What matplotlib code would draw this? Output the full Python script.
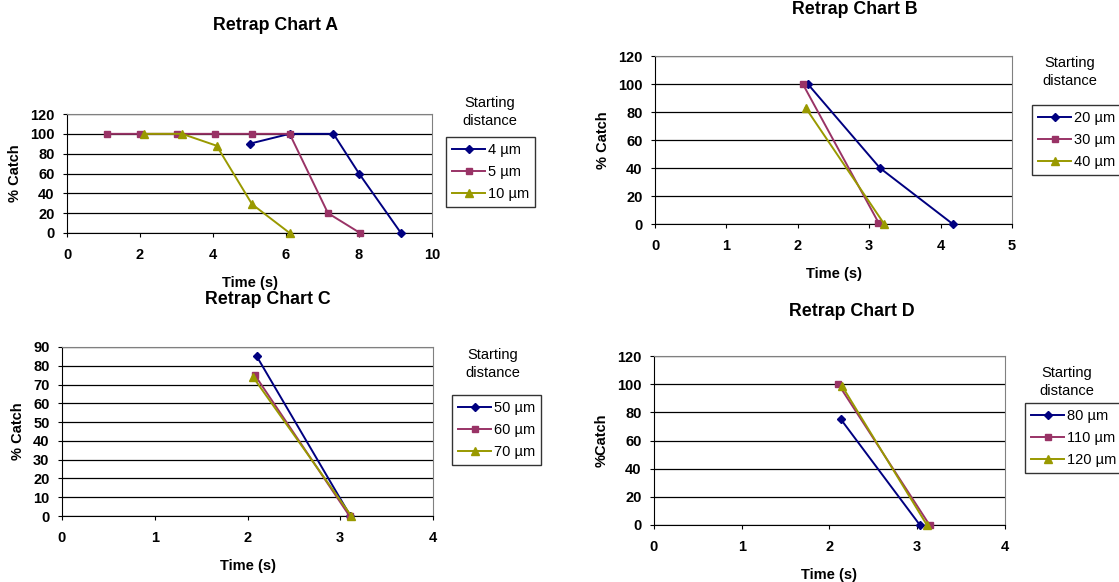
import matplotlib.pyplot as plt

plt.rcParams["font.family"] = ["Liberation Sans", "DejaVu Sans"]

W, H = 1119, 582

# ---- data ----
a_labels = ["4 µm", "5 µm", "10 µm"]
a_x = [[5.0, 6.1, 7.3, 8.0, 9.15],
       [1.1, 2.0, 3.0, 4.05, 5.07, 6.1, 7.15, 8.03],
       [2.1, 3.15, 4.1, 5.07, 6.1]]
a_y = [[90, 100, 100, 60, 0],
       [100, 100, 100, 100, 100, 100, 20, 0],
       [100, 100, 88, 29, 0]]

b_labels = ["20 µm", "30 µm", "40 µm"]
b_x = [[2.14, 3.15, 4.17], [2.07, 3.13], [2.11, 3.21]]
b_y = [[100, 40, 0], [100, 1], [83, 0]]

c_labels = ["50 µm", "60 µm", "70 µm"]
c_x = [[2.1, 3.11], [2.08, 3.1], [2.06, 3.12]]
c_y = [[85, 0], [75, 0], [74, 0]]

d_labels = ["80 µm", "110 µm", "120 µm"]
d_x = [[2.13, 3.03], [2.1, 3.14], [2.14, 3.11]]
d_y = [[75, 0], [100, 0], [99, 0]]

COLORS = ["#000080", "#993366", "#999900"]
MARKERS = ["D", "s", "^"]
MSIZE = [4.5, 5, 6]


def px_rect(x0, y0, x1, y1):
    return [x0 / W, 1 - y1 / H, (x1 - x0) / W, (y1 - y0) / H]


def draw(fig, rect, xs, ys, labels, xlim, ylim, ystep, title, title_xy,
         ylabel, leg_xy, sd_xy):
    ax = fig.add_axes(px_rect(*rect))
    for i in range(3):
        ax.plot(xs[i], ys[i], color=COLORS[i], marker=MARKERS[i],
                markersize=MSIZE[i], linewidth=1.4, label=labels[i],
                clip_on=False, zorder=3)
    ax.set_xlim(*xlim)
    ax.set_ylim(*ylim)
    step = 2 if xlim[1] == 10 else 1
    ax.set_xticks(range(xlim[0], xlim[1] + 1, step))
    ax.set_yticks(range(ylim[0], ylim[1] + 1, ystep))
    ax.yaxis.grid(True, color="black", linewidth=0.9)
    ax.set_axisbelow(True)
    for s in ["top", "right"]:
        ax.spines[s].set_color("#808080")
    for s in ["left", "bottom"]:
        ax.spines[s].set_color("black")
    ax.tick_params(direction="out", length=3, width=0.8)
    ax.tick_params(axis="x", pad=8)
    ax.tick_params(axis="y", pad=6)
    ax.set_xticklabels([str(t) for t in ax.get_xticks()], fontweight="bold",
                       fontsize=10.5)
    ax.set_yticklabels([str(t) for t in ax.get_yticks()], fontweight="bold",
                       fontsize=10.5)
    ax.set_xlabel("Time (s)", fontweight="bold", fontsize=10.5, labelpad=10)
    ax.set_ylabel(ylabel, fontweight="bold", fontsize=10.5, labelpad=6)

    fig.text(title_xy[0] / W, 1 - title_xy[1] / H, title, ha="center",
             va="center", fontweight="bold", fontsize=12.8)
    fig.text(sd_xy[0] / W, 1 - sd_xy[1] / H, "Starting\ndistance",
             ha="center", va="center", fontsize=10.5, linespacing=1.3)
    leg = ax.legend(loc="upper left",
                    bbox_to_anchor=(leg_xy[0] / W, 1 - leg_xy[1] / H),
                    bbox_transform=fig.transFigure, frameon=True,
                    fancybox=False, edgecolor="black", fontsize=10.5,
                    handlelength=2.3, handletextpad=0.15, borderpad=0.4,
                    labelspacing=0.55, borderaxespad=0)
    leg.get_frame().set_linewidth(1.0)
    return ax


fig = plt.figure(figsize=(W / 100, H / 100), dpi=100)

draw(fig, (67, 114, 432, 233), a_x, a_y, a_labels, (0, 10), (0, 120), 20,
     "Retrap Chart A", (276, 25), "% Catch", (446, 137), (490, 112))
draw(fig, (655, 56, 1012, 224), b_x, b_y, b_labels, (0, 5), (0, 120), 20,
     "Retrap Chart B", (855, 10), "% Catch", (1032, 105), (1070, 72))
draw(fig, (62, 347, 433, 516), c_x, c_y, c_labels, (0, 4), (0, 90), 10,
     "Retrap Chart C", (268, 300), "% Catch", (452, 395), (493, 364))
draw(fig, (654, 356, 1005, 525), d_x, d_y, d_labels, (0, 4), (0, 120), 20,
     "Retrap Chart D", (852, 311), "%Catch", (1025, 403), (1067, 382))

fig.savefig("out.png", dpi=100)
